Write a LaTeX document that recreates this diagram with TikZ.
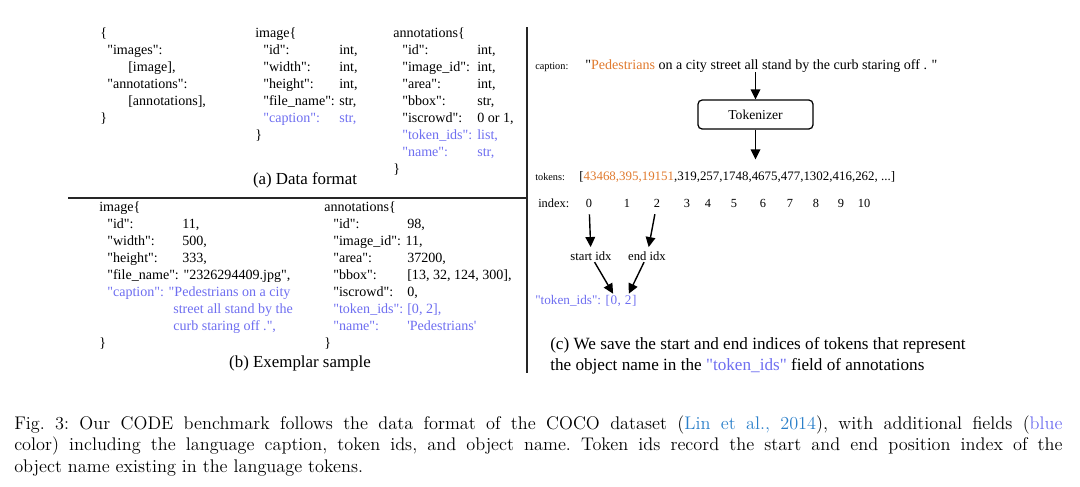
\documentclass[tikz,border=0pt]{standalone}
\usepackage{fontspec}
\usepackage{xcolor}
\usetikzlibrary{arrows.meta,positioning}
\newfontfamily\tnr{Liberation Serif}
\definecolor{FieldBlue}{HTML}{6E6EF0}
\definecolor{TokOrange}{HTML}{E07A2E}
\definecolor{CiteBlue}{HTML}{2A7FC9}
\newcommand{\kv}[3]{\makebox[#1][l]{#2}#3}
\newcommand{\fb}[1]{\textcolor{FieldBlue}{#1}}
\newcommand{\blk}[1]{\begin{tabular}[t]{@{}l@{}}#1\end{tabular}}

\begin{document}
\begin{tikzpicture}[x=0.025cm,y=-0.025cm,
  code/.style={anchor=base west,inner sep=0pt,font=\tnr\fontsize{10}{12.05}\selectfont},
  subcap/.style={inner sep=0pt,font=\tnr\fontsize{12}{14}\selectfont},
  lbl/.style={anchor=base west,inner sep=0pt,font=\tnr\fontsize{7.3}{9}\selectfont},
  seq/.style={anchor=base west,inner sep=0pt,font=\tnr\fontsize{9.2}{10}\selectfont},
  idx/.style={anchor=base,inner sep=0pt,font=\tnr\fontsize{8.8}{10}\selectfont},
  ptr/.style={inner sep=1pt,font=\tnr\fontsize{9}{10}\selectfont},
  tid/.style={anchor=base west,inner sep=0pt,text=FieldBlue,font=\tnr\fontsize{9.4}{11}\selectfont},
  tokbox/.style={draw,rounded corners=3pt,line width=0.9pt,minimum width=2.875cm,minimum height=0.725cm,font=\tnr\fontsize{9.7}{11}\selectfont},
  capline/.style={anchor=base west,inner sep=0pt,font=\fontsize{13}{15}\selectfont\frenchspacing},
  arrow/.style={-{Triangle[length=2.5mm,width=2.4mm]},line width=1pt},
  rule/.style={line width=1pt,draw=black!85}
]
\useasboundingbox (0,0) rectangle (1080,487);

% panel rules
\draw[rule] (527,27) -- (527,373);
\draw[rule] (68,198) -- (527,198);

% (a) data format
\node[code] (fmt) at (100,37.5) {\blk{\{\\
  \hspace*{0.175cm}"images":\\
  \hspace*{0.7cm}[image],\\
  \hspace*{0.175cm}"annotations":\\
  \hspace*{0.7cm}[annotations],\\
  \}}};
\node[code] (imgfmt) at (255,37.5) {\blk{image\{\\
  \hspace*{0.2cm}\kv{1.9cm}{"id":}{int,}\\
  \hspace*{0.2cm}\kv{1.9cm}{"width":}{int,}\\
  \hspace*{0.2cm}\kv{1.9cm}{"height":}{int,}\\
  \hspace*{0.2cm}\kv{1.9cm}{"file\_name":}{str,}\\
  \hspace*{0.2cm}\fb{\kv{1.9cm}{"caption":}{str,}}\\
  \}}};
\node[code] (annfmt) at (393,37.5) {\blk{annotations\{\\
  \hspace*{0.225cm}\kv{1.875cm}{"id":}{int,}\\
  \hspace*{0.225cm}\kv{1.875cm}{"image\_id":}{int,}\\
  \hspace*{0.225cm}\kv{1.875cm}{"area":}{int,}\\
  \hspace*{0.225cm}\kv{1.875cm}{"bbox":}{str,}\\
  \hspace*{0.225cm}\kv{1.875cm}{"iscrowd":}{0 or 1,}\\
  \hspace*{0.225cm}\fb{\kv{1.875cm}{"token\_ids":}{list,}}\\
  \hspace*{0.225cm}\fb{\kv{1.875cm}{"name":}{str,}}\\
  \}}};
\node[subcap] (capa) at (305,180) {(a) Data format};

% (b) exemplar sample
\node[code] (imgex) at (99,211.5) {\blk{image\{\\
  \hspace*{0.2cm}\kv{1.875cm}{"id":}{11,}\\
  \hspace*{0.2cm}\kv{1.875cm}{"width":}{500,}\\
  \hspace*{0.2cm}\kv{1.875cm}{"height":}{333,}\\
  \hspace*{0.2cm}"file\_name": "2326294409.jpg",\\
  \hspace*{0.2cm}\fb{"caption": "Pedestrians on a city}\\
  \hspace*{1.85cm}\fb{street all stand by the}\\
  \hspace*{1.85cm}\fb{curb staring off .",}\\
  \}}};
\node[code] (annex) at (324,211.5) {\blk{annotations\{\\
  \hspace*{0.225cm}\kv{1.85cm}{"id":}{98,}\\
  \hspace*{0.225cm}"image\_id": 11,\\
  \hspace*{0.225cm}\kv{1.85cm}{"area":}{37200,}\\
  \hspace*{0.225cm}\kv{1.85cm}{"bbox":}{[13, 32, 124, 300],}\\
  \hspace*{0.225cm}\kv{1.85cm}{"iscrowd":}{0,}\\
  \hspace*{0.225cm}\fb{\kv{1.85cm}{"token\_ids":}{[0, 2],}}\\
  \hspace*{0.225cm}\fb{\kv{1.85cm}{"name":}{'Pedestrians'}}\\
  \}}};
\node[subcap] (capb) at (300,363) {(b) Exemplar sample};

% (c) token ids
\node[lbl] (caplab) at (535,69) {caption:};
\node[seq,font=\tnr\fontsize{10}{11}\selectfont] (capsen) at (585,69) {"\textcolor{TokOrange}{Pedestrians} on a city street all stand by the curb staring off . "};
\node[tokbox] (tok) at (755.5,114.5) {Tokenizer};
\node[lbl] (toklab) at (535,180) {tokens:};
\node[seq] (toks) at (579,180) {[\textcolor{TokOrange}{43468,395,19151},319,257,1748,4675,477,1302,416,262, ...]};
\draw[arrow] (tok.north |- capsen.south) -- (tok);
\draw[arrow,shorten >=8pt] (tok) -- (tok.south |- toks.north);

\node[seq,font=\tnr\fontsize{8.8}{10}\selectfont] (idxlab) at (538,207) {index:};
\foreach \n/\x in {0/589,1/627,2/657,3/687,4/708,5/734,6/763,7/790,8/816,9/841,10/864}
  \node[idx] (i\n) at (\x,207) {\n};
\node[ptr] (sidx) at (591,256) {start idx};
\node[ptr] (eidx) at (647,256) {end idx};
\draw[arrow,shorten <=5pt,shorten >=2pt] (i0) -- (sidx);
\draw[arrow,shorten <=5pt,shorten >=2pt] (i2) -- (eidx);

\node[tid] (tkey) at (535,304) {"token\_ids": [};
\node[tid,base right=0pt of tkey] (t0) {0};
\node[tid,base right=0pt of t0] (tsep) {,\hspace*{0.25em}};
\node[tid,base right=0pt of tsep] (t2) {2};
\node[tid,base right=0pt of t2] (tend) {]};
\draw[arrow,shorten >=1pt] (sidx) -- (t0.north);
\draw[arrow,shorten >=1pt] (eidx) -- (t2.north);

\node[code,font=\tnr\fontsize{12.2}{15.6}\selectfont] (capc) at (550,349) {\blk{(c) We save the start and end indices of tokens that represent\\
  the object name in the \fb{"token\_ids"} field of annotations}};

% figure caption
\node[capline] (fig1) at (14,429) {\makebox[26.2cm][s]{Fig.~3: Our CODE benchmark follows the data format of the COCO dataset (\textcolor{CiteBlue}{Lin et al., 2014}), with additional fields (\fb{blue}}};
\node[capline] (fig2) at (14,450.5) {\makebox[26.2cm][s]{color) including the language caption, token ids, and object name. Token ids record the start and end position index of the}};
\node[capline] (fig3) at (14,472) {object name existing in the language tokens.};
\end{tikzpicture}
\end{document}
